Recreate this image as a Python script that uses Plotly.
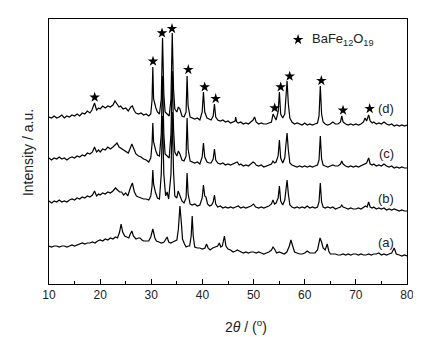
import plotly.graph_objects as go

# XRD patterns (2theta in degrees, intensity in arbitrary offset units)
pattern_a = [(10,38),(10.5,37),(11,38),(11.5,38),(12,37),(12.5,38),(13,38),(13.5,37),(14,38),(14.5,39),(15,38),(15.5,39),(16,40),(16.5,41),(17,40),(17.5,41),(18,41),(18.5,42),(19,41),(19.5,43),(20,44),(20.5,43),(21,45),(21.5,44),(22,46),(22.5,45),(23,47),(23.4,46),(23.8,52),(24.1,60),(24.4,52),(24.8,48),(25.2,47),(25.6,46),(25.9,50),(26.2,53),(26.5,48),(27,45),(27.5,46),(27.8,46),(28.2,44),(28.5,43),(29,43),(29.5,43),(29.9,47),(30.3,55),(30.7,46),(31,43),(31.5,42),(32,41),(32.5,42),(32.8,44),(33.1,47),(33.4,42),(33.8,41),(34.2,42),(34.6,43),(35.0,44),(35.3,55),(35.6,78),(35.9,60),(36.1,45),(36.5,40),(36.8,37),(37.2,38),(37.5,38),(37.8,48),(38.0,68),(38.2,48),(38.5,37),(39,36),(39.5,36),(40,35),(40.5,36),(40.8,40),(41.1,36),(41.5,34),(42,36),(42.5,37),(43,38),(43.3,41),(43.6,37),(43.9,38),(44.3,48),(44.6,38),(45,35),(45.5,34),(46,32),(46.5,33),(46.8,34),(47.2,33),(47.5,32),(48,31),(48.5,32),(49,31),(49.5,32),(50,32),(50.5,31),(51,32),(51.5,31),(52,30),(52.5,31),(53,32),(53.5,34),(53.8,37),(54.1,35),(54.5,31),(55,32),(55.5,31),(56,30),(56.5,32),(57.0,38),(57.3,44),(57.6,38),(58,32),(58.5,31),(59,30),(59.5,30),(60,31),(60.5,33),(61,31),(61.5,31),(62,31),(62.5,34),(62.8,40),(63.0,46),(63.3,42),(63.6,36),(64.0,34),(64.4,40),(64.7,33),(65,30),(65.5,30),(66,30),(66.5,29),(67,29),(67.5,30),(68,29),(68.5,30),(69,29),(69.5,30),(70,30),(70.5,29),(71,30),(71.5,29),(72,29),(72.5,30),(73,29),(73.5,30),(74,30),(74.5,31),(75,29),(75.5,30),(76,29),(76.5,30),(77,31),(77.5,36),(77.9,30),(78.5,29),(79,28),(79.5,29),(80,28)]

pattern_b = [(10,83),(10.5,81),(11,83),(11.5,82),(12,84),(12.5,82),(13,83),(13.5,82),(14,84),(14.5,85),(15,84),(15.5,86),(16,85),(16.5,87),(17,86),(17.5,88),(18,87),(18.5,89),(18.9,93),(19.3,88),(19.7,90),(20,89),(20.5,91),(21,90),(21.5,92),(22,91),(22.5,93),(23,96),(23.4,94),(23.8,92),(24.2,92),(24.6,89),(25,91),(25.4,88),(25.9,96),(26.3,101),(26.7,92),(27.1,88),(27.5,87),(28,86),(28.5,85),(29,85),(29.5,84),(29.9,88),(30.15,98),(30.3,114),(30.45,100),(30.8,92),(31.2,86),(31.6,85),(31.95,110),(32.2,168),(32.45,110),(32.8,88),(33.1,92),(33.4,85),(33.85,110),(34.1,172),(34.35,112),(34.6,88),(35.0,86),(35.25,93),(35.6,88),(36.0,83),(36.4,81),(36.8,86),(37.0,111),(37.2,90),(37.6,80),(38,79),(38.5,80),(39,78),(39.5,79),(39.95,86),(40.2,99),(40.45,88),(40.7,87),(41.0,80),(41.4,78),(41.8,79),(42.1,82),(42.35,89),(42.6,80),(43,77),(43.5,78),(44,76),(44.5,77),(45,76),(45.5,77),(46,76),(46.5,77),(47,78),(47.5,76),(48,77),(48.5,76),(49,77),(49.5,78),(50,80),(50.4,77),(51,76),(51.5,77),(52,76),(52.5,77),(53,78),(53.5,80),(53.8,84),(54.1,80),(54.4,81),(54.8,86),(55.05,98),(55.3,83),(55.7,79),(56.1,84),(56.3,95),(56.55,104),(56.8,90),(57.1,79),(57.5,77),(58,76),(58.5,77),(59,76),(59.5,77),(60,76),(60.5,78),(61,76),(61.5,77),(62,76),(62.5,77),(62.8,82),(63.05,101),(63.3,82),(63.6,77),(64,76),(64.5,77),(65,76),(65.5,77),(66,75),(66.5,76),(67.0,77),(67.25,79),(67.5,77),(68,76),(68.5,75),(69,76),(69.5,75),(70,75),(70.5,76),(71,75),(71.5,77),(71.9,78),(72.2,77),(72.5,82),(72.8,77),(73.2,76),(73.5,77),(74,75),(74.5,76),(75,75),(75.5,76),(76,74),(76.5,75),(77,74),(77.5,75),(78,74),(78.5,73),(79,74),(79.5,73),(80,73)]

pattern_c = [(10,126),(10.5,124),(11,126),(11.5,125),(12,127),(12.5,125),(13,126),(13.5,124),(14,126),(14.5,127),(15,126),(15.5,128),(16,127),(16.5,129),(17,128),(17.5,131),(18,130),(18.5,132),(18.9,137),(19.3,132),(19.7,134),(20,132),(20.5,135),(21,134),(21.5,137),(22,135),(22.5,137),(23,139),(23.3,141),(23.7,137),(24,136),(24.5,134),(25,133),(25.5,131),(25.9,136),(26.2,140),(26.6,135),(27,130),(27.5,128),(28,127),(28.5,125),(29,124),(29.5,122),(29.9,126),(30.15,140),(30.3,161),(30.45,142),(30.7,135),(30.9,133),(31.2,129),(31.6,128),(31.95,150),(32.2,208),(32.45,150),(32.7,130),(33.1,128),(33.5,126),(33.85,150),(34.1,213),(34.35,155),(34.6,132),(35.0,128),(35.3,133),(35.6,130),(36.0,124),(36.4,123),(36.8,128),(37.0,166),(37.2,135),(37.6,123),(38,122),(38.5,121),(39,122),(39.5,120),(39.95,127),(40.2,141),(40.45,127),(40.9,122),(41.3,121),(41.7,121),(42.1,125),(42.35,135),(42.6,124),(43,121),(43.5,120),(44,121),(44.5,119),(45,120),(45.5,119),(46,120),(46.5,121),(46.8,122),(47.2,119),(47.5,120),(48,118),(48.5,119),(49,118),(49.5,120),(49.9,122),(50.2,121),(50.5,119),(51,118),(51.5,119),(52,117),(52.5,118),(53,119),(53.5,120),(53.8,123),(54.1,121),(54.4,122),(54.8,128),(55.05,144),(55.3,126),(55.7,121),(56.1,126),(56.3,138),(56.55,151),(56.8,134),(57.1,121),(57.5,119),(58,118),(58.5,117),(59,118),(59.5,117),(60,118),(60.5,117),(61,118),(61.5,117),(62,118),(62.5,119),(62.8,124),(63.05,148),(63.3,125),(63.6,119),(64,118),(64.5,117),(65,118),(65.5,119),(66,118),(66.5,118),(67.0,120),(67.25,123),(67.5,120),(68,118),(68.5,117),(69,118),(69.5,117),(70,118),(70.5,117),(71,118),(71.5,119),(72.1,121),(72.5,126),(72.8,120),(73.2,119),(73.5,120),(74,118),(74.5,119),(75,118),(75.5,120),(76,118),(76.5,117),(77,118),(77.5,116),(78,117),(78.5,116),(79,117),(79.5,116),(80,116)]

pattern_d = [(10,167),(10.5,166),(11,168),(11.5,166),(12,167),(12.5,169),(13,166),(13.5,168),(14,167),(14.5,169),(15,168),(15.5,170),(16,168),(16.5,171),(17,170),(17.5,173),(18,171),(18.4,174),(18.9,181),(19.3,174),(19.7,176),(20,175),(20.5,178),(21,176),(21.5,178),(22,177),(22.5,179),(22.9,183),(23.3,180),(23.7,177),(24,178),(24.5,175),(25,176),(25.5,173),(26,177),(26.3,178),(26.7,173),(27,171),(27.5,170),(28,171),(28.5,169),(29,170),(29.5,168),(29.9,170),(30.15,184),(30.3,217),(30.45,185),(30.7,178),(30.9,176),(31.2,172),(31.6,170),(31.95,185),(32.2,246),(32.45,190),(32.7,172),(33.1,170),(33.5,168),(33.85,185),(34.1,251),(34.35,195),(34.6,175),(35.0,172),(35.3,177),(35.6,175),(36.0,168),(36.4,167),(36.8,172),(37.0,208),(37.2,178),(37.6,167),(38,166),(38.5,165),(39,166),(39.5,164),(39.95,172),(40.2,192),(40.45,172),(40.9,166),(41.3,165),(41.7,164),(42.1,168),(42.35,180),(42.6,167),(43,164),(43.5,163),(44,164),(44.5,162),(45,163),(45.5,161),(46,162),(46.4,163),(46.5,167),(46.7,162),(47,161),(47.5,162),(48,160),(48.5,161),(49,160),(49.5,162),(49.9,164),(50.2,167),(50.5,162),(51,160),(51.5,161),(52,160),(52.5,160),(53,161),(53.5,162),(53.8,170),(54.1,166),(54.4,164),(54.8,172),(55.05,192),(55.3,170),(55.7,166),(56.1,170),(56.3,185),(56.55,203),(56.8,180),(57.1,166),(57.5,162),(58,160),(58.5,161),(59,160),(59.5,159),(60,161),(60.5,159),(61,160),(61.5,159),(62,160),(62.5,161),(62.8,168),(63.05,198),(63.3,170),(63.6,162),(64,160),(64.5,159),(65,160),(65.5,162),(66,160),(66.5,160),(67.0,162),(67.25,168),(67.5,162),(68,160),(68.5,159),(69,160),(69.5,159),(70,160),(70.5,159),(71,160),(71.5,162),(71.8,166),(72.1,163),(72.5,169),(72.8,163),(73.2,161),(73.5,162),(74,160),(74.5,161),(75,160),(75.5,162),(76,160),(76.5,159),(77,160),(77.5,158),(78,159),(78.5,158),(79,159),(79.5,158),(80,159)]

# BaFe12O19 reflection markers (stars above pattern d)
star_x = [18.93, 30.34, 32.1, 34.05, 37.24, 40.44, 42.59, 54.13, 55.3, 57.06, 63.25, 67.49, 72.7]
star_y = [186.7, 222.7, 251, 255.3, 214.3, 197, 185.3, 176, 197, 207.7, 203.3, 173.7, 175.3]

# Sample labels
label_text = ["(a)", "(b)", "(c)", "(d)"]
label_x = [75.9, 75.9, 75.9, 75.9]
label_y = [41.7, 85.3, 130.3, 176]

x_ticks = [10, 20, 30, 40, 50, 60, 70, 80]

FONT = "Liberation Sans, Arial, sans-serif"

fig = go.Figure()
for pat in [pattern_a, pattern_b, pattern_c, pattern_d]:
    fig.add_trace(go.Scatter(
        x=[p[0] for p in pat], y=[p[1] for p in pat],
        mode="lines", line=dict(color="black", width=1.2),
        showlegend=False, hoverinfo="skip"))

fig.add_trace(go.Scatter(
    x=star_x, y=star_y, mode="markers",
    marker=dict(symbol="star", size=8, color="black"),
    showlegend=False, hoverinfo="skip"))

# legend-like key
fig.add_trace(go.Scatter(
    x=[58.7], y=[244.3], mode="markers",
    marker=dict(symbol="star", size=8, color="black"),
    showlegend=False, hoverinfo="skip"))

annotations = [
    dict(x=61.0, y=244.3, xref="x", yref="y", text="BaFe<sub>12</sub>O<sub>19</sub>",
         showarrow=False, xanchor="left", yanchor="middle",
         font=dict(family=FONT, size=13, color="#222")),
    dict(x=-0.058, y=0.495, xref="paper", yref="paper", text="Intensity / a.u.",
         textangle=-90, showarrow=False, xanchor="center", yanchor="middle",
         font=dict(family=FONT, size=14, color="#222")),
    dict(x=0.55, y=-0.158, xref="paper", yref="paper", text="2<i>θ</i> / (<sup>o</sup>)",
         showarrow=False, xanchor="center", yanchor="middle",
         font=dict(family=FONT, size=14, color="#222")),
]
for t, lx, ly in zip(label_text, label_x, label_y):
    annotations.append(dict(x=lx, y=ly, xref="x", yref="y", text=t, showarrow=False,
                            xanchor="center", yanchor="middle",
                            font=dict(family=FONT, size=13, color="#222")))

fig.update_layout(
    width=421, height=337,
    margin=dict(l=41, r=22, t=11, b=61),
    paper_bgcolor="white", plot_bgcolor="white",
    annotations=annotations,
    xaxis=dict(range=[10, 80], tickvals=x_ticks, ticks="inside", ticklen=5,
               tickcolor="black", showline=True, linecolor="black", linewidth=1,
               mirror=True, showgrid=False, zeroline=False,
               tickfont=dict(family=FONT, size=12, color="#222"),
               minor=dict(dtick=5, tick0=10, ticks="inside", ticklen=3, tickcolor="black")),
    yaxis=dict(range=[0, 265], showticklabels=False, ticks="", showline=True,
               linecolor="black", linewidth=1, mirror=True, showgrid=False, zeroline=False),
)

fig.write_html("out.html")
